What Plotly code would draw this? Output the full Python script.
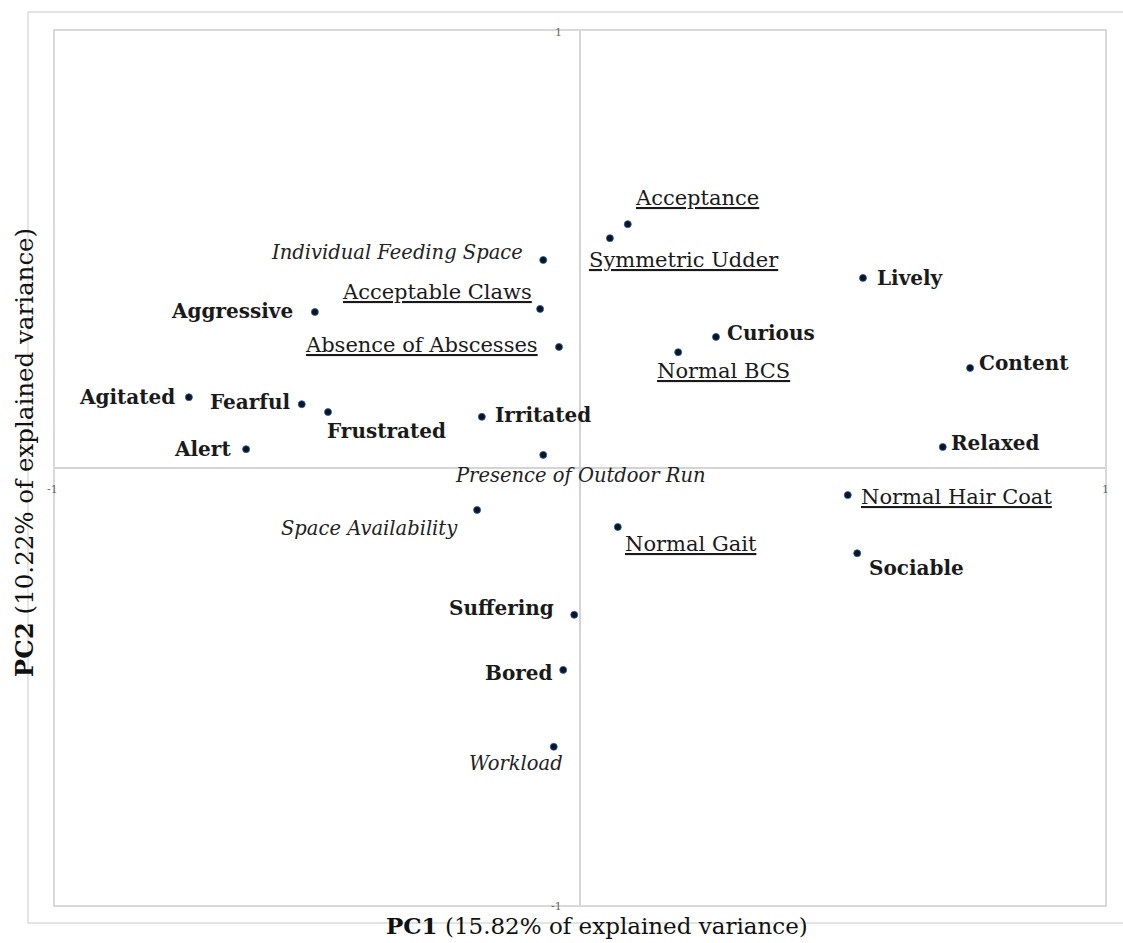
import plotly.graph_objects as go

# ---------------- data ----------------
names = ["Acceptance", "Symmetric Udder", "Individual Feeding Space", "Acceptable Claws",
         "Aggressive", "Absence of Abscesses", "Curious", "Normal BCS", "Lively", "Content",
         "Agitated", "Fearful", "Frustrated", "Irritated", "Alert", "Presence of Outdoor Run",
         "Relaxed", "Normal Hair Coat", "Space Availability", "Normal Gait", "Sociable",
         "Suffering", "Bored", "Workload"]
pc1 = [0.091, 0.057, -0.070, -0.076, -0.505, -0.040, 0.259, 0.187, 0.539, 0.743,
       -0.745, -0.530, -0.480, -0.187, -0.636, -0.070, 0.691, 0.510, -0.196, 0.072,
       0.528, -0.011, -0.032, -0.050]
pc2 = [0.558, 0.526, 0.476, 0.364, 0.357, 0.277, 0.300, 0.265, 0.435, 0.229,
       0.162, 0.146, 0.128, 0.117, 0.043, 0.030, 0.048, -0.062, -0.096, -0.135,
       -0.195, -0.336, -0.462, -0.638]
# type: e = emotion (bold), r = resource-based (italic), a = animal-based (underlined)
kind = ["a", "a", "r", "a", "e", "a", "e", "a", "e", "e",
        "e", "e", "e", "e", "e", "r", "e", "a", "r", "a",
        "e", "e", "e", "r"]
tick_vals = [-1, 1]
tick_text = ["-1", "1"]
x_title = "<b>PC1</b> (15.82% of explained variance)"
y_title = "<b>PC2</b> (10.22% of explained variance)"

# ---------------- label placement (anchor, xshift, yshift in px) ----------------
place = {
    "Acceptance": ("left", 5, 26),
    "Symmetric Udder": ("left", -23, -22),
    "Individual Feeding Space": ("right", -18, 7),
    "Acceptable Claws": ("right", -6, 17),
    "Aggressive": ("right", -20, 1),
    "Absence of Abscesses": ("right", -19, 2),
    "Curious": ("left", 9, 4),
    "Normal BCS": ("left", -23, -19),
    "Lively": ("left", 12, 0),
    "Content": ("left", 7, 5),
    "Agitated": ("right", -12, 0),
    "Fearful": ("right", -10, 2),
    "Frustrated": ("left", -3, -19),
    "Irritated": ("left", 11, 2),
    "Alert": ("right", -13, 0),
    "Presence of Outdoor Run": ("center", 37, -21),
    "Relaxed": ("left", 6, 4),
    "Normal Hair Coat": ("left", 11, -2),
    "Space Availability": ("right", -17, -19),
    "Normal Gait": ("left", 5, -17),
    "Sociable": ("left", 10, -15),
    "Suffering": ("right", -18, 7),
    "Bored": ("right", -8, -3),
    "Workload": ("right", 11, -17),
}

FONT = "DejaVu Serif"
TXT = "#1a1a1a"

fig = go.Figure()
fig.add_trace(go.Scatter(
    x=pc1, y=pc2, mode="markers", text=names, hoverinfo="text",
    marker=dict(size=7, color="#0a1424", line=dict(color="#2a5f9e", width=0.8)),
    showlegend=False,
))

annotations = []
for n, xv, yv, k in zip(names, pc1, pc2, kind):
    anc, dx, dy = place[n]
    if k == "e":
        f = dict(family=FONT, size=20, color=TXT, weight="bold")
    elif k == "r":
        f = dict(family=FONT, size=19.5, color="#222222", style="italic")
    else:
        f = dict(family=FONT, size=21, color=TXT, lineposition="under")
    annotations.append(dict(x=xv, y=yv, xref="x", yref="y", text=n, showarrow=False,
                            xanchor=anc, yanchor="middle", xshift=dx, yshift=dy, font=f))

# tick labels (Excel style, at the axis ends)
for v, t in zip(tick_vals, tick_text):
    annotations.append(dict(x=v, y=0, xref="x", yref="y", text=t, showarrow=False,
                            xanchor="center", yanchor="middle", xshift=-3 if v < 0 else 0,
                            yshift=-21, font=dict(family=FONT, size=11, color="#666666")))
    annotations.append(dict(x=0, y=v, xref="x", yref="y", text=t, showarrow=False,
                            xanchor="right", yanchor="middle", xshift=-16, yshift=-1,
                            font=dict(family=FONT, size=11, color="#666666")))

annotations.append(dict(x=0.516, y=-0.024, xref="paper", yref="paper", text=x_title,
                        showarrow=False, xanchor="center", yanchor="middle",
                        font=dict(family=FONT, size=23, color="#111111")))
annotations.append(dict(x=-0.0295, y=0.517, xref="paper", yref="paper", text=y_title,
                        showarrow=False, xanchor="center", yanchor="middle", textangle=-90,
                        font=dict(family=FONT, size=24.5, color="#111111")))

axis_common = dict(range=[-1, 1], showgrid=False, showticklabels=False, ticks="",
                   zeroline=True, zerolinecolor="#d4d4d4", zerolinewidth=2,
                   showline=True, mirror=True, linecolor="#d9d9d9", linewidth=2,
                   fixedrange=True)

fig.update_layout(
    width=1123, height=943,
    margin=dict(l=55, r=18, t=31, b=38),
    paper_bgcolor="white", plot_bgcolor="white",
    xaxis=axis_common, yaxis=axis_common,
    annotations=annotations,
    shapes=[dict(type="rect", xref="paper", yref="paper", x0=-0.0257, x1=1.04,
                 y0=-0.0206, y1=1.0217, line=dict(color="#dcdcdc", width=1.5),
                 layer="below")],
)

fig.write_html("out.html", config={"displayModeBar": False},
               post_script="document.body.style.margin='0px';document.body.style.overflow='hidden';")
